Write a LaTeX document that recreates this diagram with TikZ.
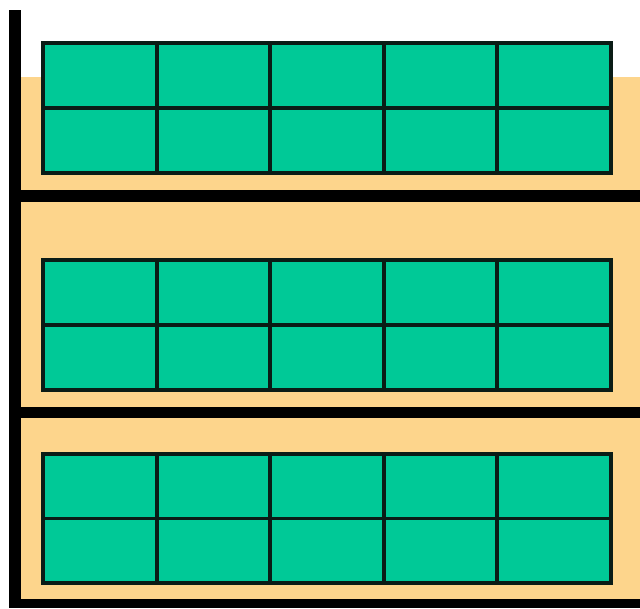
\documentclass[tikz,border=0pt]{standalone}
\definecolor{shelfbg}{RGB}{253,213,140}
\definecolor{cellgreen}{RGB}{0,201,151}
\definecolor{griddark}{RGB}{10,28,22}
\tikzset{
  wall/.style={fill=black},
  gridcells/.style={fill=cellgreen, draw=griddark, line width=3.2pt},
  gridlines/.style={draw=griddark, line width=3.2pt}
}
\newcommand{\tray}[2]{% top y, bottom y
  \filldraw[gridcells] (43,#1) rectangle (611,#2);
  \foreach \cx in {157,270,384,497} \draw[gridlines] (\cx,#1) -- (\cx,#2);
  \draw[gridlines] (43,{(#1+#2)/2}) -- (611,{(#1+#2)/2});
}
\begin{document}
\begin{tikzpicture}[x=1pt,y=-1pt]
\useasboundingbox (0,0) rectangle (640,608);
\fill[white] (0,0) rectangle (640,608);
% orange background
\fill[shelfbg] (21,77) rectangle (640,600);
% walls
\fill[wall] (9,10) rectangle (21,608);
\fill[wall] (21,190) rectangle (640,202);
\fill[wall] (21,407) rectangle (640,418);
\fill[wall] (21,599) rectangle (640,608);
% trays
\tray{43}{173}
\tray{260}{390}
\tray{454}{583}
\end{tikzpicture}
\end{document}
